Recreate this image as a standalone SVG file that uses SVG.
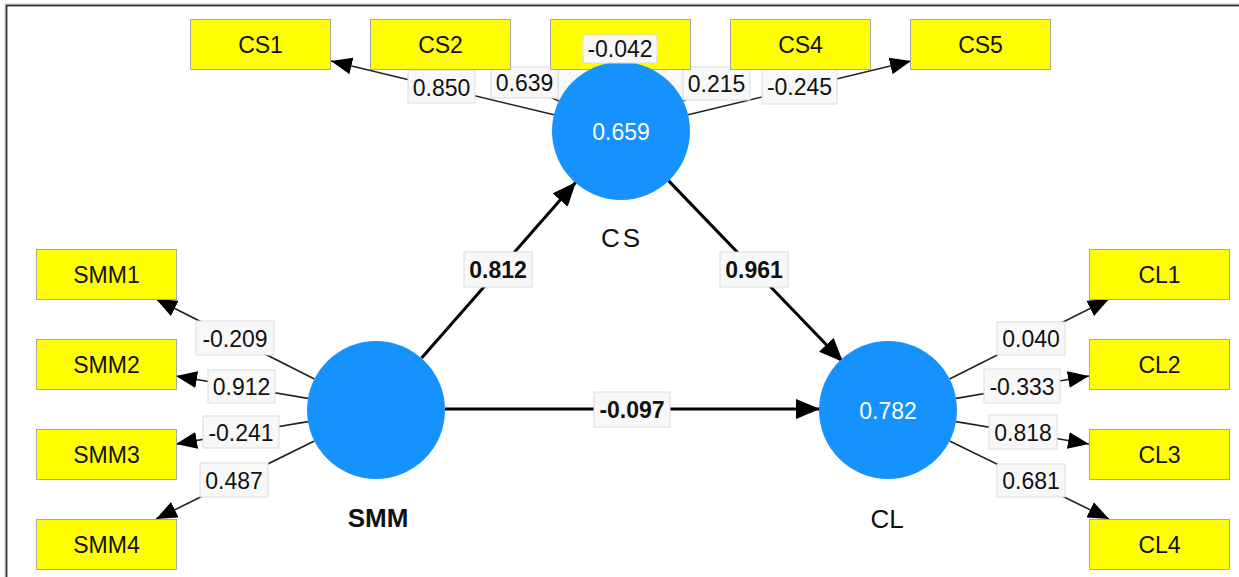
<svg xmlns="http://www.w3.org/2000/svg" width="1239" height="577" viewBox="0 0 1239 577">
<defs>
<style>
.ind{fill:#ffff00;stroke:#a8a8a8;stroke-width:1}
.indt{font-family:"Liberation Sans",Arial,sans-serif;font-size:23px;fill:#111;text-anchor:middle}
.lv{fill:#1592fd}
.lvt{font-family:"Liberation Sans",Arial,sans-serif;font-size:23px;fill:#fff;text-anchor:middle}
.name{font-family:"Liberation Sans",Arial,sans-serif;font-size:26px;fill:#111;text-anchor:middle}
.lb{fill:#f8f8f8;stroke:#dcdcdc;stroke-width:1}
.lbt{font-family:"Liberation Sans",Arial,sans-serif;font-size:23px;fill:#111;text-anchor:middle}
.lbtb{font-family:"Liberation Sans",Arial,sans-serif;font-size:23px;font-weight:bold;fill:#111;text-anchor:middle}
.thin{stroke:#222;stroke-width:1.6;fill:none;marker-end:url(#ah)}
.thick{stroke:#000;stroke-width:3;fill:none;marker-end:url(#ahb)}
</style>
<marker id="ah" markerUnits="userSpaceOnUse" markerWidth="21" markerHeight="17" refX="21" refY="8.5" orient="auto">
<path d="M0,0 L21,8.5 L0,17 z" fill="#000"/>
</marker>
<marker id="ahb" markerUnits="userSpaceOnUse" markerWidth="24" markerHeight="20" refX="24" refY="10" orient="auto">
<path d="M0,0 L24,10 L0,20 z" fill="#000"/>
</marker>
</defs>
<rect x="0" y="0" width="1239" height="577" fill="#fff"/>
<rect x="5" y="4" width="1300" height="700" fill="none" stroke="#c8c8c8" stroke-width="1"/>
<rect x="6.5" y="5.5" width="1300" height="700" fill="none" stroke="#333" stroke-width="1.8"/>

<g id="connectors">
<line class="thin" x1="553.9" y1="114.8" x2="331" y2="61"/>
<line class="thin" x1="558.8" y1="101.1" x2="492" y2="69"/>
<line class="thin" x1="621" y1="100" x2="621" y2="69"/>
<line class="thin" x1="683.2" y1="101.1" x2="750" y2="69"/>
<line class="thin" x1="688.1" y1="114.8" x2="911" y2="61"/>
<line class="thin" x1="314.4" y1="379" x2="156" y2="299"/>
<line class="thin" x1="308" y1="398.4" x2="176" y2="376"/>
<line class="thin" x1="308" y1="421.6" x2="176" y2="444"/>
<line class="thin" x1="314.4" y1="441" x2="156" y2="519"/>
<line class="thin" x1="949.6" y1="379" x2="1109" y2="299"/>
<line class="thin" x1="956" y1="398.4" x2="1089" y2="376"/>
<line class="thin" x1="956" y1="421.6" x2="1089" y2="444"/>
<line class="thin" x1="949.6" y1="441" x2="1109" y2="519"/>
<line class="thick" x1="421.6" y1="358" x2="576" y2="182"/>
<line class="thick" x1="668.7" y1="180.9" x2="843" y2="362"/>
<line class="thick" x1="445" y1="409" x2="820" y2="409"/>
</g>

<g id="labels">
<rect class="lb" x="558" y="67" width="125" height="32"/>
<rect class="lb" x="408" y="70" width="67" height="33"/><text class="lbt" x="441.5" y="95.5">0.850</text>
<rect class="lb" x="491" y="67" width="67" height="31"/><text class="lbt" x="524.5" y="91">0.639</text>
<rect class="lb" x="683" y="67" width="67" height="33"/><text class="lbt" x="716.5" y="92">0.215</text>
<rect class="lb" x="762" y="69" width="75" height="35"/><text class="lbt" x="799.5" y="95">-0.245</text>
<rect class="lb" x="196" y="321" width="78" height="34"/><text class="lbt" x="235" y="346.5">-0.209</text>
<rect class="lb" x="208" y="370" width="67" height="33"/><text class="lbt" x="241.5" y="395">0.912</text>
<rect class="lb" x="203" y="416" width="76" height="32"/><text class="lbt" x="241" y="440.5">-0.241</text>
<rect class="lb" x="200" y="463" width="68" height="34"/><text class="lbt" x="234" y="488.5">0.487</text>
<rect class="lb" x="997" y="322" width="68" height="33"/><text class="lbt" x="1031" y="347">0.040</text>
<rect class="lb" x="984" y="369" width="76" height="34"/><text class="lbt" x="1022" y="394.5">-0.333</text>
<rect class="lb" x="989" y="415" width="68" height="34"/><text class="lbt" x="1023" y="440.5">0.818</text>
<rect class="lb" x="997" y="464" width="68" height="33"/><text class="lbt" x="1031" y="489">0.681</text>
<rect class="lb" x="464" y="252" width="68" height="35"/><text class="lbtb" x="498" y="278">0.812</text>
<rect class="lb" x="720" y="252" width="68" height="35"/><text class="lbtb" x="754" y="278">0.961</text>
<rect class="lb" x="594" y="392" width="76" height="35"/><text class="lbtb" x="632" y="418">-0.097</text>
</g>

<g id="CS1"><rect class="ind" x="190.5" y="19.5" width="140" height="50"/><text class="indt" x="260.5" y="52.5">CS1</text></g>
<g id="CS2"><rect class="ind" x="370.5" y="19.5" width="140" height="50"/><text class="indt" x="440.5" y="52.5">CS2</text></g>
<g id="CS3"><rect class="ind" x="550.5" y="19.5" width="140" height="50"/></g>
<g id="CS4"><rect class="ind" x="730.5" y="19.5" width="140" height="50"/><text class="indt" x="800.5" y="52.5">CS4</text></g>
<g id="CS5"><rect class="ind" x="910.5" y="19.5" width="140" height="50"/><text class="indt" x="980.5" y="52.5">CS5</text></g>

<g id="SMM1"><rect class="ind" x="36.5" y="249.5" width="140" height="50"/><text class="indt" x="106.5" y="282.5">SMM1</text></g>
<g id="SMM2"><rect class="ind" x="36.5" y="339.5" width="140" height="50"/><text class="indt" x="106.5" y="372.5">SMM2</text></g>
<g id="SMM3"><rect class="ind" x="36.5" y="429.5" width="140" height="50"/><text class="indt" x="106.5" y="462.5">SMM3</text></g>
<g id="SMM4"><rect class="ind" x="36.5" y="519.5" width="140" height="50"/><text class="indt" x="106.5" y="552.5">SMM4</text></g>

<g id="CL1"><rect class="ind" x="1089.5" y="249.5" width="140" height="50"/><text class="indt" x="1159.5" y="282.5">CL1</text></g>
<g id="CL2"><rect class="ind" x="1089.5" y="339.5" width="140" height="50"/><text class="indt" x="1159.5" y="372.5">CL2</text></g>
<g id="CL3"><rect class="ind" x="1089.5" y="429.5" width="140" height="50"/><text class="indt" x="1159.5" y="462.5">CL3</text></g>
<g id="CL4"><rect class="ind" x="1089.5" y="519.5" width="140" height="50"/><text class="indt" x="1159.5" y="552.5">CL4</text></g>

<g id="CS">
<circle class="lv" cx="621" cy="131" r="69"/>
<text class="lvt" x="621" y="139.5">0.659</text>
<text class="name" x="622" y="247" letter-spacing="3">CS</text>
</g>
<g id="CS3label"><rect class="lb" x="583" y="35" width="74" height="28"/><text class="lbt" x="620" y="57">-0.042</text></g>
<g id="SMM">
<circle class="lv" cx="376" cy="410" r="69"/>
<text class="name" x="378" y="527" font-weight="bold" font-size="25">SMM</text>
</g>
<g id="CL">
<circle class="lv" cx="888" cy="410" r="69"/>
<text class="lvt" x="888" y="419">0.782</text>
<text class="name" x="887" y="528">CL</text>
</g>
</svg>
